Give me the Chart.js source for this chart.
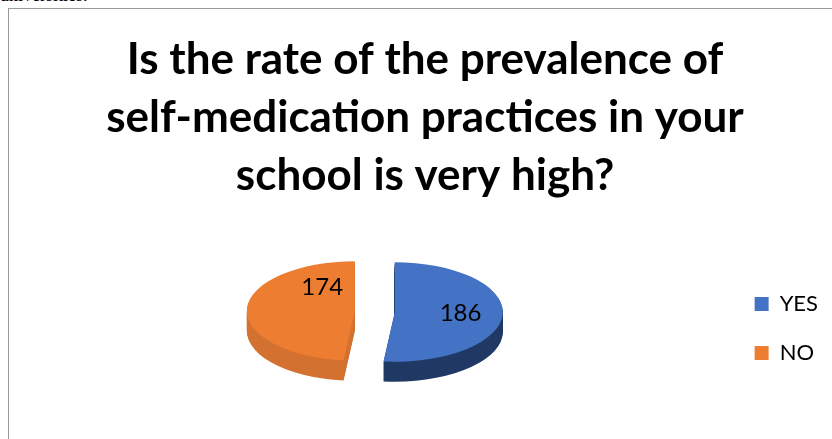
<!DOCTYPE html>
<html>
<head>
<meta charset="utf-8">
<script src="https://cdn.jsdelivr.net/npm/chart.js@4/dist/chart.umd.min.js"></script>
<style>
  html, body { margin: 0; padding: 0; background: #fff; overflow: hidden; }
  body { width: 832px; height: 439px; position: relative; }
  #cut { position: absolute; left: 0; top: -15px; font: 18px "Liberation Serif", serif; color: #000; white-space: nowrap; }
  #frame { position: absolute; left: 8px; top: 8px; width: 830px; height: 440px; border-left: 1px solid #9a9a9a; border-top: 1px solid #9a9a9a; }
  #wrap { position: absolute; left: 9px; top: 9px; width: 823px; height: 430px; }
</style>
</head>
<body>
<div id="cut">universities.</div>
<div id="frame"></div>
<div id="wrap"><canvas id="c"></canvas></div>
<script>
const titleLines = ["Is the rate of the prevalence of", "self-medication practices in your", "school is very high?"];
const categories = ["YES", "NO"];
const values = [186, 174];
const topColors = ["#4472C4", "#ED7D31"];
const sideColorsDark = ["#1F3864", "#9A4D1B"];
const sideColorsLight = ["#2F5597", "#D27130"];

const pie3d = {
  id: 'pie3d',
  beforeDatasetsDraw(chart, args, o) {
    const ctx = chart.ctx;
    const meta = chart.getDatasetMeta(0);
    const arcs = meta.data;
    if (!arcs.length) return;
    const cx = arcs[0].x, cy = arcs[0].y + o.shiftY;
    // side (depth)
    arcs.forEach((arc, i) => {
      const mid = (arc.startAngle + arc.endAngle) / 2;
      const ex = Math.cos(mid) * o.explode, ey = Math.sin(mid) * o.explode;
      const R = arc.outerRadius;
      const g = ctx.createLinearGradient(cx + ex - R, 0, cx + ex + R, 0);
      if (i === 0) { g.addColorStop(0, sideColorsDark[i]); g.addColorStop(0.75, sideColorsDark[i]); g.addColorStop(1, sideColorsLight[i]); }
      else { g.addColorStop(0, sideColorsLight[i]); g.addColorStop(0.55, sideColorsLight[i]); g.addColorStop(1, sideColorsDark[i]); }
      for (let d = o.depth; d >= 1; d--) {
        ctx.save();
        ctx.translate(cx, cy + d);
        ctx.scale(1, o.tilt);
        ctx.translate(ex, ey);
        ctx.beginPath();
        ctx.moveTo(0, 0);
        ctx.arc(0, 0, R, arc.startAngle, arc.endAngle);
        ctx.closePath();
        ctx.fillStyle = g;
        ctx.fill();
        ctx.restore();
      }
    });
    // top surfaces via the library's arc elements
    arcs.forEach((arc) => {
      const mid = (arc.startAngle + arc.endAngle) / 2;
      ctx.save();
      ctx.translate(cx, cy);
      ctx.scale(1, o.tilt);
      ctx.translate(Math.cos(mid) * o.explode, Math.sin(mid) * o.explode);
      ctx.translate(-arc.x, -arc.y);
      arc.draw(ctx);
      ctx.restore();
    });
    // value labels
    ctx.save();
    ctx.font = o.labelFont;
    ctx.fillStyle = '#000';
    ctx.textAlign = 'center';
    ctx.textBaseline = 'middle';
    arcs.forEach((arc, i) => {
      const mid = (arc.startAngle + arc.endAngle) / 2;
      const lp = o.labelPlace[i];
      const a = mid + lp.da * Math.PI / 180;
      const r = lp.f * arc.outerRadius;
      const x = cx + Math.cos(mid) * o.explode + Math.cos(a) * r;
      const y = cy + o.tilt * (Math.sin(mid) * o.explode + Math.sin(a) * r);
      ctx.fillText(String(values[i]), x, y);
    });
    ctx.restore();
    return false;
  }
};

new Chart(document.getElementById('c'), {
  type: 'pie',
  data: {
    labels: categories,
    datasets: [{
      data: values,
      backgroundColor: topColors,
      borderWidth: 0
    }]
  },
  options: {
    responsive: true,
    maintainAspectRatio: false,
    animation: false,
    radius: 108,
    layout: { padding: { left: 13, right: 4, top: 0, bottom: 0 } },
    plugins: {
      tooltip: { enabled: false },
      title: {
        display: true,
        text: titleLines,
        color: '#000',
        font: { family: 'Lato', size: 44, weight: 'bold', lineHeight: 1.318 },
        padding: { top: 22, bottom: 13 }
      },
      legend: {
        position: 'right',
        fullSize: false,
        labels: {
          color: '#000',
          boxWidth: 14,
          boxHeight: 14,
          padding: 27,
          font: { family: 'Lato', size: 22 }
        }
      },
      pie3d: {
        tilt: 0.46,
        depth: 20,
        explode: 20,
        shiftY: -17,
        labelFont: '24px Lato',
        labelPlace: [{ da: 0, f: 0.61 }, { da: 55, f: 0.57 }]
      }
    }
  },
  plugins: [pie3d]
});
</script>
</body>
</html>
